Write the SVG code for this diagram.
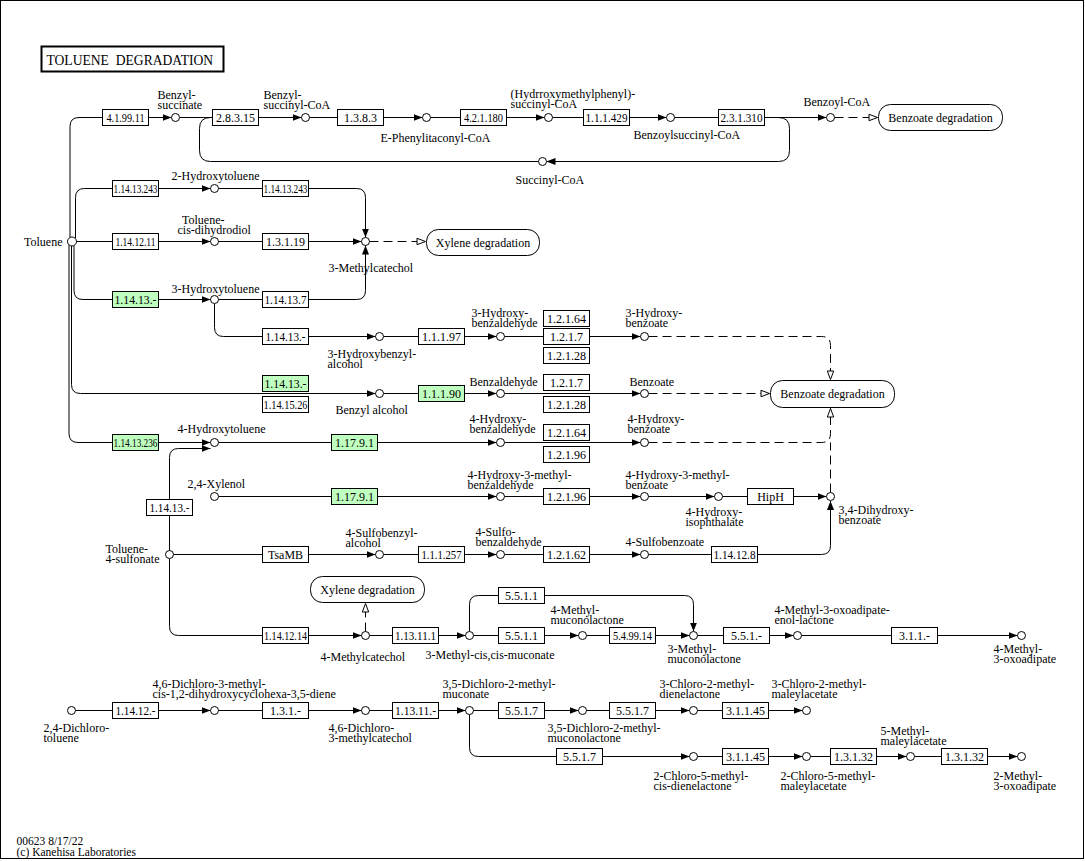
<svg xmlns="http://www.w3.org/2000/svg" width="1085" height="861" viewBox="0 0 1085 861">
<style>
text{font-family:"Liberation Serif","Times New Roman",serif;font-size:12px;fill:#000}
.e rect{fill:#fff;stroke:#000;stroke-width:1}
.e.g rect{fill:#bfffbf}
.e text{text-anchor:middle}
.c circle{fill:#fff;stroke:#000;stroke-width:1}
.p rect{fill:#fff;stroke:#000;stroke-width:1}
.p text{text-anchor:middle}
#connectors path{fill:none;stroke:#000;stroke-width:1}
#connectors path.a{marker-end:url(#arr)}
#connectors path.o{marker-end:url(#open);stroke-dasharray:9 5}
#connectors path.d{stroke-dasharray:9 5}
</style>
<defs>
<marker id="arr" viewBox="0 0 9 7" refX="9" refY="3.5" markerWidth="9" markerHeight="7" markerUnits="userSpaceOnUse" orient="auto"><path d="M0,0 L9,3.5 L0,7 z" fill="#000" stroke="none"/></marker>
<marker id="open" viewBox="0 0 10 8" refX="9.5" refY="4" markerWidth="10" markerHeight="8" markerUnits="userSpaceOnUse" orient="auto"><path d="M1,0.8 L9.5,4 L1,7.2 z" fill="#fff" stroke="#000" stroke-width="1" stroke-dasharray="none"/></marker>
</defs>
<rect x="0.5" y="0.5" width="1083" height="858" fill="#fff" stroke="#000" stroke-width="1"/>
<g transform="translate(0.5,0.5)">
<g id="title"><rect x="41" y="46" width="182" height="25" fill="#fff" stroke="#000" stroke-width="2"/><text x="46" y="64" xml:space="preserve" style="font-size:13.6px">TOLUENE  DEGRADATION</text></g>

<g id="connectors">
<path class="a" d="M69.5,237 V126 Q69.5,117 78.5,117 H171"/>
<path class="a" d="M75,238 V197 Q75,188 84,188 H210"/>
<path class="a" d="M76,241 H210"/>
<path class="a" d="M73.5,245 V290 Q73.5,299 82.5,299 H210"/>
<path class="a" d="M71,245.5 V384 Q71,393 80,393 H375"/>
<path class="a" d="M68.5,244 V433 Q68.5,442 77.5,442 H210"/>
<path class="a" d="M179,117 H301"/>
<path class="a" d="M309,117 H422"/>
<path class="a" d="M430,117 H544"/>
<path class="a" d="M552,117 H666"/>
<path class="a" d="M674,117 H826"/>
<path class="a" d="M778,117 Q789,117 789,128 V150 Q789,161 778,161 H546"/>
<path d="M538,161 H210 Q199,161 199,150 V128 Q199,117 210,117"/>
<path class="o" d="M834,117 H877"/>
<path class="a" d="M218,188 H356 Q365,188 365,197 V237"/>
<path class="a" d="M218,241 H361"/>
<path class="o" d="M369,241 H425"/>
<path class="a" d="M218,299 H356 Q365,299 365,290 V245"/>
<path class="a" d="M214,303 V327 Q214,336 223,336 H375"/>
<path class="a" d="M383,336 H496"/>
<path class="a" d="M504,336 H640"/>
<path class="o" d="M648,336 H821 Q830,336 830,345 V379"/>
<path class="a" d="M383,393 H496"/>
<path class="a" d="M504,393 H640"/>
<path class="o" d="M648,393 H769"/>
<path class="a" d="M218,442 H496"/>
<path class="a" d="M504,442 H640"/>
<path class="o" d="M648,442 H821 Q830,442 830,433 V408"/>
<path class="d" d="M830,492 V442"/>
<path class="a" d="M169,550 V457 Q169,448 178,448 H210"/>
<path class="a" d="M218,496 H496"/>
<path class="a" d="M504,496 H640"/>
<path class="a" d="M648,496 H714"/>
<path class="a" d="M722,496 H826"/>
<path class="a" d="M173,554 H375"/>
<path class="a" d="M383,554 H496"/>
<path class="a" d="M504,554 H640"/>
<path class="a" d="M648,554 H821 Q830,554 830,545 V500.5"/>
<path class="a" d="M169,558 V626 Q169,635 178,635 H361"/>
<path class="o" d="M365,631 V603"/>
<path class="a" d="M369,635 H465"/>
<path class="a" d="M469,631 V604 Q469,595 478,595 H684 Q693,595 693,604 V631"/>
<path class="a" d="M473,635 H578"/>
<path class="a" d="M586,635 H689"/>
<path class="a" d="M697,635 H793"/>
<path class="a" d="M801,635 H1017"/>
<path class="a" d="M75,710 H210"/>
<path class="a" d="M218,710 H361"/>
<path class="a" d="M369,710 H465"/>
<path class="a" d="M473,710 H578"/>
<path class="a" d="M586,710 H689"/>
<path class="a" d="M697,710 H802"/>
<path class="a" d="M469,714 V747 Q469,756 478,756 H689"/>
<path class="a" d="M697,756 H802"/>
<path class="a" d="M810,756 H906"/>
<path class="a" d="M914,756 H1017"/>
</g>

<g id="map_benzoate1" class="p"><rect x="878" y="104" width="124" height="26" rx="12"/><text x="940" y="121">Benzoate degradation</text></g>
<g id="map_xylene1" class="p"><rect x="426" y="229" width="113" height="26" rx="12"/><text x="482.5" y="246">Xylene degradation</text></g>
<g id="map_benzoate2" class="p"><rect x="770" y="380" width="124" height="27" rx="12"/><text x="832" y="397.5">Benzoate degradation</text></g>
<g id="map_xylene2" class="p"><rect x="310" y="576" width="114" height="26" rx="12"/><text x="367" y="593">Xylene degradation</text></g>

<g id="e_4.1.99.11" class="e"><rect x="102" y="109" width="46" height="16"/><text x="125" y="121" textLength="38" lengthAdjust="spacingAndGlyphs">4.1.99.11</text></g>
<g id="e_2.8.3.15" class="e"><rect x="212" y="109" width="46" height="16"/><text x="235" y="121">2.8.3.15</text></g>
<g id="e_1.3.8.3" class="e"><rect x="337" y="109" width="46" height="16"/><text x="360" y="121">1.3.8.3</text></g>
<g id="e_4.2.1.180" class="e"><rect x="460" y="109" width="46" height="16"/><text x="483" y="121" textLength="39" lengthAdjust="spacingAndGlyphs">4.2.1.180</text></g>
<g id="e_1.1.1.429" class="e"><rect x="583" y="109" width="46" height="16"/><text x="606" y="121" textLength="42" lengthAdjust="spacingAndGlyphs">1.1.1.429</text></g>
<g id="e_2.3.1.310" class="e"><rect x="718" y="109" width="46" height="16"/><text x="741" y="121" textLength="42" lengthAdjust="spacingAndGlyphs">2.3.1.310</text></g>
<g id="e_1.14.13.243a" class="e"><rect x="112" y="180" width="46" height="16"/><text x="135" y="192" textLength="44" lengthAdjust="spacingAndGlyphs">1.14.13.243</text></g>
<g id="e_1.14.13.243b" class="e"><rect x="262" y="180" width="46" height="16"/><text x="285" y="192" textLength="44" lengthAdjust="spacingAndGlyphs">1.14.13.243</text></g>
<g id="e_1.14.12.11" class="e"><rect x="112" y="233" width="46" height="16"/><text x="135" y="245" textLength="40" lengthAdjust="spacingAndGlyphs">1.14.12.11</text></g>
<g id="e_1.3.1.19" class="e"><rect x="262" y="233" width="46" height="16"/><text x="285" y="245">1.3.1.19</text></g>
<g id="e_1.14.13.-a" class="e g"><rect x="112" y="291" width="46" height="16"/><text x="135" y="303" textLength="42" lengthAdjust="spacingAndGlyphs">1.14.13.-</text></g>
<g id="e_1.14.13.7" class="e"><rect x="262" y="291" width="46" height="16"/><text x="285" y="303" textLength="42" lengthAdjust="spacingAndGlyphs">1.14.13.7</text></g>
<g id="e_1.14.13.-b" class="e"><rect x="262" y="328" width="46" height="16"/><text x="285" y="340" textLength="40" lengthAdjust="spacingAndGlyphs">1.14.13.-</text></g>
<g id="e_1.1.1.97" class="e"><rect x="418" y="328" width="46" height="16"/><text x="441" y="340">1.1.1.97</text></g>
<g id="e_1.2.1.64a" class="e"><rect x="543" y="310" width="46" height="16"/><text x="566" y="322">1.2.1.64</text></g>
<g id="e_1.2.1.7a" class="e"><rect x="543" y="328" width="46" height="16"/><text x="566" y="340">1.2.1.7</text></g>
<g id="e_1.2.1.28a" class="e"><rect x="543" y="347" width="46" height="16"/><text x="566" y="359">1.2.1.28</text></g>
<g id="e_1.14.13.-c" class="e g"><rect x="262" y="375" width="46" height="16"/><text x="285" y="387" textLength="42" lengthAdjust="spacingAndGlyphs">1.14.13.-</text></g>
<g id="e_1.14.15.26" class="e"><rect x="262" y="396" width="46" height="16"/><text x="285" y="408" textLength="44" lengthAdjust="spacingAndGlyphs">1.14.15.26</text></g>
<g id="e_1.1.1.90" class="e g"><rect x="418" y="385" width="46" height="16"/><text x="441" y="397">1.1.1.90</text></g>
<g id="e_1.2.1.7b" class="e"><rect x="543" y="374" width="46" height="16"/><text x="566" y="386">1.2.1.7</text></g>
<g id="e_1.2.1.28b" class="e"><rect x="543" y="396" width="46" height="16"/><text x="566" y="408">1.2.1.28</text></g>
<g id="e_1.14.13.236" class="e g"><rect x="112" y="434" width="46" height="16"/><text x="135" y="446" textLength="44" lengthAdjust="spacingAndGlyphs">1.14.13.236</text></g>
<g id="e_1.17.9.1a" class="e g"><rect x="331" y="434" width="46" height="16"/><text x="354" y="446">1.17.9.1</text></g>
<g id="e_1.2.1.64b" class="e"><rect x="543" y="424" width="46" height="16"/><text x="566" y="436">1.2.1.64</text></g>
<g id="e_1.2.1.96a" class="e"><rect x="543" y="446" width="46" height="16"/><text x="566" y="458">1.2.1.96</text></g>
<g id="e_1.14.13.-d" class="e"><rect x="146" y="499" width="46" height="16"/><text x="169" y="511" textLength="40" lengthAdjust="spacingAndGlyphs">1.14.13.-</text></g>
<g id="e_1.17.9.1b" class="e g"><rect x="331" y="488" width="46" height="16"/><text x="354" y="500">1.17.9.1</text></g>
<g id="e_1.2.1.96b" class="e"><rect x="543" y="488" width="46" height="16"/><text x="566" y="500">1.2.1.96</text></g>
<g id="e_HipH" class="e"><rect x="747" y="488" width="46" height="16"/><text x="770" y="500">HipH</text></g>
<g id="e_TsaMB" class="e"><rect x="262" y="546" width="46" height="16"/><text x="285" y="558" textLength="35" lengthAdjust="spacingAndGlyphs">TsaMB</text></g>
<g id="e_1.1.1.257" class="e"><rect x="418" y="546" width="46" height="16"/><text x="441" y="558" textLength="40" lengthAdjust="spacingAndGlyphs">1.1.1.257</text></g>
<g id="e_1.2.1.62" class="e"><rect x="543" y="546" width="46" height="16"/><text x="566" y="558">1.2.1.62</text></g>
<g id="e_1.14.12.8" class="e"><rect x="711" y="546" width="46" height="16"/><text x="734" y="558" textLength="42" lengthAdjust="spacingAndGlyphs">1.14.12.8</text></g>
<g id="e_1.14.12.14" class="e"><rect x="262" y="627" width="46" height="16"/><text x="285" y="639" textLength="43" lengthAdjust="spacingAndGlyphs">1.14.12.14</text></g>
<g id="e_1.13.11.1" class="e"><rect x="392" y="627" width="46" height="16"/><text x="415" y="639" textLength="41" lengthAdjust="spacingAndGlyphs">1.13.11.1</text></g>
<g id="e_5.5.1.1a" class="e"><rect x="498" y="587" width="46" height="16"/><text x="521" y="599">5.5.1.1</text></g>
<g id="e_5.5.1.1b" class="e"><rect x="498" y="627" width="46" height="16"/><text x="521" y="639">5.5.1.1</text></g>
<g id="e_5.4.99.14" class="e"><rect x="609" y="627" width="46" height="16"/><text x="632" y="639" textLength="39" lengthAdjust="spacingAndGlyphs">5.4.99.14</text></g>
<g id="e_5.5.1.-" class="e"><rect x="723" y="627" width="46" height="16"/><text x="746" y="639">5.5.1.-</text></g>
<g id="e_3.1.1.-" class="e"><rect x="891" y="627" width="46" height="16"/><text x="914" y="639">3.1.1.-</text></g>
<g id="e_1.14.12.-" class="e"><rect x="112" y="702" width="46" height="16"/><text x="135" y="714" textLength="40" lengthAdjust="spacingAndGlyphs">1.14.12.-</text></g>
<g id="e_1.3.1.-" class="e"><rect x="262" y="702" width="46" height="16"/><text x="285" y="714">1.3.1.-</text></g>
<g id="e_1.13.11.-" class="e"><rect x="392" y="702" width="46" height="16"/><text x="415" y="714" textLength="41" lengthAdjust="spacingAndGlyphs">1.13.11.-</text></g>
<g id="e_5.5.1.7a" class="e"><rect x="498" y="702" width="46" height="16"/><text x="521" y="714">5.5.1.7</text></g>
<g id="e_5.5.1.7b" class="e"><rect x="609" y="702" width="46" height="16"/><text x="632" y="714">5.5.1.7</text></g>
<g id="e_3.1.1.45a" class="e"><rect x="722" y="702" width="46" height="16"/><text x="745" y="714">3.1.1.45</text></g>
<g id="e_5.5.1.7c" class="e"><rect x="556" y="748" width="46" height="16"/><text x="579" y="760">5.5.1.7</text></g>
<g id="e_3.1.1.45b" class="e"><rect x="722" y="748" width="46" height="16"/><text x="745" y="760">3.1.1.45</text></g>
<g id="e_1.3.1.32a" class="e"><rect x="830" y="748" width="46" height="16"/><text x="853" y="760">1.3.1.32</text></g>
<g id="e_1.3.1.32b" class="e"><rect x="941" y="748" width="46" height="16"/><text x="964" y="760">1.3.1.32</text></g>

<g id="c_benzylsuccinate" class="c"><circle cx="175" cy="117" r="4"/><text x="157" y="98.5">Benzyl-</text><text x="157" y="108.5">succinate</text></g>
<g id="c_benzylsuccinylcoa" class="c"><circle cx="305" cy="117" r="4"/><text x="263" y="98.5">Benzyl-</text><text x="263" y="108.5">succinyl-CoA</text></g>
<g id="c_ephenylitaconylcoa" class="c"><circle cx="426" cy="117" r="4"/><text x="380" y="141">E-Phenylitaconyl-CoA</text></g>
<g id="c_hmpsuccinylcoa" class="c"><circle cx="548" cy="117" r="4"/><text x="510" y="97">(Hydrroxymethylphenyl)-</text><text x="510" y="107">succinyl-CoA</text></g>
<g id="c_benzoylsuccinylcoa" class="c"><circle cx="670" cy="117" r="4"/><text x="633" y="138">Benzoylsuccinyl-CoA</text></g>
<g id="c_benzoylcoa" class="c"><circle cx="830" cy="117" r="4"/><text x="803" y="105">Benzoyl-CoA</text></g>
<g id="c_succinylcoa" class="c"><circle cx="542" cy="161" r="4"/><text x="515" y="183">Succinyl-CoA</text></g>
<g id="c_toluene" class="c"><circle cx="71.5" cy="241" r="4.5"/><text x="62" y="245" text-anchor="end">Toluene</text></g>
<g id="c_2hydroxytoluene" class="c"><circle cx="214" cy="188" r="4"/><text x="171" y="179">2-Hydroxytoluene</text></g>
<g id="c_toluenecisdihydrodiol" class="c"><circle cx="214" cy="241" r="4"/><text x="181.5" y="223">Toluene-</text><text x="177" y="233">cis-dihydrodiol</text></g>
<g id="c_3methylcatechol" class="c"><circle cx="365" cy="241" r="4"/><text x="328" y="271">3-Methylcatechol</text></g>
<g id="c_3hydroxytoluene" class="c"><circle cx="214" cy="299" r="4"/><text x="171" y="292">3-Hydroxytoluene</text></g>
<g id="c_3hydroxybenzylalcohol" class="c"><circle cx="379" cy="336" r="4"/><text x="327" y="357">3-Hydroxybenzyl-</text><text x="327" y="367">alcohol</text></g>
<g id="c_3hydroxybenzaldehyde" class="c"><circle cx="500" cy="336" r="4"/><text x="471" y="316">3-Hydroxy-</text><text x="471" y="326">benzaldehyde</text></g>
<g id="c_3hydroxybenzoate" class="c"><circle cx="644" cy="336" r="4"/><text x="625" y="316">3-Hydroxy-</text><text x="625" y="326">benzoate</text></g>
<g id="c_benzylalcohol" class="c"><circle cx="379" cy="393" r="4"/><text x="335" y="413">Benzyl alcohol</text></g>
<g id="c_benzaldehyde" class="c"><circle cx="500" cy="393" r="4"/><text x="469" y="385">Benzaldehyde</text></g>
<g id="c_benzoate" class="c"><circle cx="644" cy="393" r="4"/><text x="629" y="385">Benzoate</text></g>
<g id="c_4hydroxytoluene" class="c"><circle cx="214" cy="442" r="4"/><text x="177" y="432">4-Hydroxytoluene</text></g>
<g id="c_4hydroxybenzaldehyde" class="c"><circle cx="500" cy="442" r="4"/><text x="469" y="422">4-Hydroxy-</text><text x="469" y="432">benzaldehyde</text></g>
<g id="c_4hydroxybenzoate" class="c"><circle cx="644" cy="442" r="4"/><text x="627" y="422">4-Hydroxy-</text><text x="627" y="432">benzoate</text></g>
<g id="c_24xylenol" class="c"><circle cx="214" cy="496" r="4"/><text x="187" y="487">2,4-Xylenol</text></g>
<g id="c_4h3mbenzaldehyde" class="c"><circle cx="500" cy="496" r="4"/><text x="467" y="478">4-Hydroxy-3-methyl-</text><text x="467" y="488">benzaldehyde</text></g>
<g id="c_4h3mbenzoate" class="c"><circle cx="644" cy="496" r="4"/><text x="625" y="478">4-Hydroxy-3-methyl-</text><text x="625" y="488">benzoate</text></g>
<g id="c_4hisophthalate" class="c"><circle cx="718" cy="496" r="4"/><text x="685" y="515">4-Hydroxy-</text><text x="685" y="525">isophthalate</text></g>
<g id="c_34dihydroxybenzoate" class="c"><circle cx="830" cy="496" r="4"/><text x="838" y="513">3,4-Dihydroxy-</text><text x="838" y="523">benzoate</text></g>
<g id="c_toluene4sulfonate" class="c"><circle cx="169" cy="554" r="4"/><text x="105" y="552">Toluene-</text><text x="105" y="562">4-sulfonate</text></g>
<g id="c_4sulfobenzylalcohol" class="c"><circle cx="379" cy="554" r="4"/><text x="345" y="536">4-Sulfobenzyl-</text><text x="345" y="546">alcohol</text></g>
<g id="c_4sulfobenzaldehyde" class="c"><circle cx="500" cy="554" r="4"/><text x="475" y="535">4-Sulfo-</text><text x="475" y="545">benzaldehyde</text></g>
<g id="c_4sulfobenzoate" class="c"><circle cx="644" cy="554" r="4"/><text x="625" y="545">4-Sulfobenzoate</text></g>
<g id="c_4methylcatechol" class="c"><circle cx="365" cy="635" r="4"/><text x="320" y="660">4-Methylcatechol</text></g>
<g id="c_3methylmuconate" class="c"><circle cx="469" cy="635" r="4"/><text x="425" y="658">3-Methyl-cis,cis-muconate</text></g>
<g id="c_4methylmuconolactone" class="c"><circle cx="582" cy="635" r="4"/><text x="550" y="613">4-Methyl-</text><text x="550" y="623">muconolactone</text></g>
<g id="c_3methylmuconolactone" class="c"><circle cx="693" cy="635" r="4"/><text x="667" y="652">3-Methyl-</text><text x="667" y="662">muconolactone</text></g>
<g id="c_4m3oxoadipateenollactone" class="c"><circle cx="797" cy="635" r="4"/><text x="774" y="613">4-Methyl-3-oxoadipate-</text><text x="774" y="623">enol-lactone</text></g>
<g id="c_4m3oxoadipate" class="c"><circle cx="1021" cy="635" r="4"/><text x="993" y="652">4-Methyl-</text><text x="993" y="662">3-oxoadipate</text></g>
<g id="c_24dichlorotoluene" class="c"><circle cx="71" cy="710" r="4"/><text x="43" y="731">2,4-Dichloro-</text><text x="43" y="741">toluene</text></g>
<g id="c_46dc3mdiene" class="c"><circle cx="214" cy="710" r="4"/><text x="152" y="687">4,6-Dichloro-3-methyl-</text><text x="152" y="697">cis-1,2-dihydroxycyclohexa-3,5-diene</text></g>
<g id="c_46dc3mcatechol" class="c"><circle cx="365" cy="710" r="4"/><text x="328" y="731">4,6-Dichloro-</text><text x="328" y="741">3-methylcatechol</text></g>
<g id="c_35dc2mmuconate" class="c"><circle cx="469" cy="710" r="4"/><text x="442" y="687">3,5-Dichloro-2-methyl-</text><text x="442" y="697">muconate</text></g>
<g id="c_35dc2mmuconolactone" class="c"><circle cx="582" cy="710" r="4"/><text x="547" y="731">3,5-Dichloro-2-methyl-</text><text x="547" y="741">muconolactone</text></g>
<g id="c_3c2mdienelactone" class="c"><circle cx="693" cy="710" r="4"/><text x="659" y="687">3-Chloro-2-methyl-</text><text x="659" y="697">dienelactone</text></g>
<g id="c_3c2mmaleylacetate" class="c"><circle cx="806" cy="710" r="4"/><text x="771" y="687">3-Chloro-2-methyl-</text><text x="771" y="697">maleylacetate</text></g>
<g id="c_2c5mcisdienelactone" class="c"><circle cx="693" cy="756" r="4"/><text x="653" y="779">2-Chloro-5-methyl-</text><text x="653" y="789">cis-dienelactone</text></g>
<g id="c_2c5mmaleylacetate" class="c"><circle cx="806" cy="756" r="4"/><text x="780" y="779">2-Chloro-5-methyl-</text><text x="780" y="789">maleylacetate</text></g>
<g id="c_5mmaleylacetate" class="c"><circle cx="910" cy="756" r="4"/><text x="880" y="734">5-Methyl-</text><text x="880" y="744">maleylacetate</text></g>
<g id="c_2m3oxoadipate" class="c"><circle cx="1021" cy="756" r="4"/><text x="993" y="779">2-Methyl-</text><text x="993" y="789">3-oxoadipate</text></g>

<g id="footer"><text x="16" y="844" style="font-size:11.5px">00623 8/17/22</text><text x="16" y="855" style="font-size:11.5px">(c) Kanehisa Laboratories</text></g>
</g>
</svg>
